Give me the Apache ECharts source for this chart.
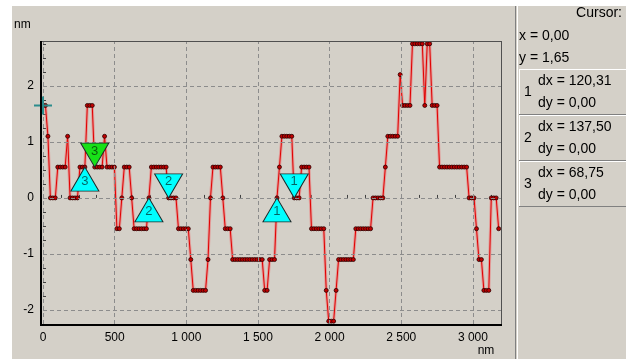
<!DOCTYPE html>
<html>
<head>
<meta charset="utf-8">
<script src="https://cdn.jsdelivr.net/npm/echarts@6/dist/echarts.min.js"></script>
<style>
html,body{margin:0;padding:0;background:#ffffff;}
#chart{width:626px;height:359px;}
</style>
</head>
<body>
<div id="chart"></div>
<script>
// ---- data (nm) ----
const xStep = 17.1875; // sample spacing along the profile
const profileY = [
  1.65,1.65,1.1,0,0,0,0.55,0.55,0.55,0.55,
  1.1,0,0,0,0,0.55,0.55,0.55,1.65,1.65,
  1.65,0.55,0.55,0.55,0.55,1.1,0.55,0.55,0.55,0.55,
  -0.55,-0.55,0,0.55,0.55,0.55,0,-0.55,-0.55,-0.55,
  -0.55,-0.55,-0.55,0,0.55,0.55,0.55,0.55,0.55,0.55,
  0.55,0,0,0,0,-0.55,-0.55,-0.55,-0.55,-0.55,
  -1.1,-1.65,-1.65,-1.65,-1.65,-1.65,-1.65,-1.1,0,0.55,
  0.55,0.55,0.55,0,-0.55,-0.55,-0.55,-1.1,-1.1,-1.1,
  -1.1,-1.1,-1.1,-1.1,-1.1,-1.1,-1.1,-1.1,-1.1,-1.1,
  -1.65,-1.65,-1.1,-1.1,-1.1,0,0.55,1.1,1.1,1.1,
  1.1,1.1,0,0,0,0.55,0.55,0.55,0.55,-0.55,
  -0.55,-0.55,-0.55,-0.55,-0.55,-1.65,-2.2,-2.2,-2.2,-1.65,
  -1.1,-1.1,-1.1,-1.1,-1.1,-1.1,-1.1,-0.55,-0.55,-0.55,
  -0.55,-0.55,-0.55,-0.55,0,0,0,0,0,0.55,
  1.1,1.1,1.1,1.1,1.1,2.2,1.65,1.65,1.65,1.65,
  2.75,2.75,2.75,2.75,2.75,1.65,2.75,2.75,1.65,1.65,
  1.65,0.55,0.55,0.55,0.55,0.55,0.55,0.55,0.55,0.55,
  0.55,0.55,0.55,0,0,0,-0.55,-1.1,-1.1,-1.65,
  -1.65,-1.65,0,0,0,-0.55
];
const xTickValues = [0, 500, 1000, 1500, 2000, 2500, 3000];
const xTickLabels = ['0', '500', '1 000', '1 500', '2 000', '2 500', '3 000'];
const yTickValues = [-2, -1, 0, 1, 2];
const yTickLabels = ['-2', '-1', '0', '1', '2'];

// markers: number, sample index of the "up" and "down" triangles
const markerNumbers = ['1', '2', '3'];
const markerUpIndex = [95, 43, 17];
const markerDownIndex = [102, 51, 21];
const markerDownActive = [false, false, true];

// cursor readout panel
const cursorX = 0.00;
const cursorY = 1.65;
const markerDx = [120.31, 137.50, 68.75];
const markerDy = [0.00, 0.00, 0.00];

// ---- build ----
const points = profileY.map((y, i) => [i * xStep, y]);
const fmt = v => v.toFixed(2).replace('.', ',');
const lookup = (vals, labs) => v => {
  for (let i = 0; i < vals.length; i++) if (Math.abs(v - vals[i]) < 1e-6) return labs[i];
  return '';
};

const FONT = 'Liberation Sans, Arial, sans-serif';
const PFONT = '14px ' + FONT;
const BG = '#d4d0c8';

const upData = markerNumbers.map((n, k) => ({
  value: [markerUpIndex[k] * xStep, profileY[markerUpIndex[k]]],
  label: { formatter: n }
}));
const downData = markerNumbers.map((n, k) => ({
  value: [markerDownIndex[k] * xStep, profileY[markerDownIndex[k]]],
  label: { formatter: n },
  itemStyle: { color: markerDownActive[k] ? '#18e018' : '#00ffff' }
}));

const gridLines = yTickValues.map(v => ({ yAxis: v })).concat(xTickValues.map(v => ({ xAxis: v })));

const graphics = [
  { type: 'rect', z: -10, silent: true, shape: { x: 12, y: 6, width: 504, height: 353 }, style: { fill: BG } },
  { type: 'rect', z: -10, silent: true, shape: { x: 516, y: 6, width: 110, height: 353 }, style: { fill: BG } },
  { type: 'line', z: -9, silent: true, shape: { x1: 515.5, y1: 6, x2: 515.5, y2: 359 }, style: { stroke: '#808080', lineWidth: 1 } },
  { type: 'line', z: -9, silent: true, shape: { x1: 517.5, y1: 6, x2: 517.5, y2: 359 }, style: { stroke: '#ffffff', lineWidth: 1 } },
  // plot frame
  { type: 'line', z: 50, silent: true, shape: { x1: 40, y1: 41.5, x2: 502, y2: 41.5 }, style: { stroke: '#505050', lineWidth: 1 } },
  { type: 'line', z: 50, silent: true, shape: { x1: 501.5, y1: 41, x2: 501.5, y2: 325 }, style: { stroke: '#505050', lineWidth: 1 } },
  { type: 'line', z: 50, silent: true, shape: { x1: 41, y1: 41, x2: 41, y2: 326 }, style: { stroke: '#000000', lineWidth: 2 } },
  { type: 'line', z: 50, silent: true, shape: { x1: 40, y1: 325, x2: 502, y2: 325 }, style: { stroke: '#000000', lineWidth: 2 } },
  { type: 'text', style: { text: 'nm', x: 14, y: 25, font: '12px ' + FONT, fill: '#000', align: 'left', verticalAlign: 'middle' } },
  { type: 'text', style: { text: 'nm', x: 486, y: 351, font: '12px ' + FONT, fill: '#000', align: 'center', verticalAlign: 'middle' } },
  { type: 'text', style: { text: 'Cursor:', x: 622, y: 13, font: PFONT, fill: '#000', align: 'right', verticalAlign: 'middle' } },
  { type: 'text', style: { text: 'x = ' + fmt(cursorX), x: 519, y: 36, font: PFONT, fill: '#000', align: 'left', verticalAlign: 'middle' } },
  { type: 'text', style: { text: 'y = ' + fmt(cursorY), x: 519, y: 58, font: PFONT, fill: '#000', align: 'left', verticalAlign: 'middle' } }
];
const boxTop = [69, 115, 161];
const boxH = 46;
markerNumbers.forEach((n, k) => {
  const t = boxTop[k];
  graphics.push(
    { type: 'line', z: -8, silent: true, shape: { x1: 519, y1: t + 0.5, x2: 626, y2: t + 0.5 }, style: { stroke: '#ffffff', lineWidth: 1 } },
    { type: 'line', z: -8, silent: true, shape: { x1: 519.5, y1: t, x2: 519.5, y2: t + boxH }, style: { stroke: '#ffffff', lineWidth: 1 } },
    { type: 'line', z: -8, silent: true, shape: { x1: 519, y1: t + boxH - 0.5, x2: 626, y2: t + boxH - 0.5 }, style: { stroke: '#808080', lineWidth: 1 } },
    { type: 'text', style: { text: n, x: 528, y: t + 23, font: PFONT, fill: '#000', align: 'center', verticalAlign: 'middle' } },
    { type: 'text', style: { text: 'dx = ' + fmt(markerDx[k]), x: 538, y: t + 12, font: PFONT, fill: '#000', align: 'left', verticalAlign: 'middle' } },
    { type: 'text', style: { text: 'dy = ' + fmt(markerDy[k]), x: 538, y: t + 34, font: PFONT, fill: '#000', align: 'left', verticalAlign: 'middle' } }
  );
});

const chart = echarts.init(document.getElementById('chart'), null, { renderer: 'canvas' });
chart.setOption({
  animation: false,
  backgroundColor: '#ffffff',
  textStyle: { fontFamily: FONT },
  graphic: graphics,
  grid: { left: 43, top: 41, width: 458, height: 283, show: false },
  xAxis: {
    type: 'value', min: 0, max: 3196, interval: 125,
    axisLine: { show: false },
    axisTick: { show: true, inside: true, length: 3, lineStyle: { color: '#404040' } },
    splitLine: { show: false },
    axisLabel: { color: '#000', fontSize: 12, fontFamily: FONT, margin: 8, showMaxLabel: false, formatter: lookup(xTickValues, xTickLabels) }
  },
  yAxis: {
    type: 'value', min: -2.25, max: 2.8, interval: 0.25, offset: 2,
    axisLine: { show: false },
    axisTick: { show: true, inside: true, length: 3, lineStyle: { color: '#404040' } },
    splitLine: { show: false },
    axisLabel: { color: '#000', fontSize: 12, fontFamily: FONT, margin: 7, showMaxLabel: false, formatter: lookup(yTickValues, yTickLabels) }
  },
  series: [
    {
      type: 'line', data: points, silent: true, z: 2, showSymbol: false,
      lineStyle: { color: 'rgba(236,120,120,0.6)', width: 3 },
      markLine: {
        silent: true, symbol: 'none', label: { show: false },
        lineStyle: { color: '#8c8c8c', width: 1, type: [4, 3] },
        data: gridLines
      }
    },
    {
      type: 'line', data: points, z: 3, symbol: 'circle', symbolSize: 4, showSymbol: true,
      lineStyle: { color: '#e00000', width: 1 },
      itemStyle: { color: '#c00000', borderColor: '#2a0000', borderWidth: 0.8 }
    },
    {
      type: 'scatter', data: upData, z: 5,
      symbol: 'path://M14,0L28,24L0,24Z', symbolSize: [28, 24], symbolOffset: [0, 12],
      itemStyle: { color: '#00ffff', borderColor: '#1a2a2a', borderWidth: 1, opacity: 1 },
      label: { show: true, position: 'inside', offset: [0, 2], color: 'rgba(0,0,0,0.6)', fontSize: 13, fontFamily: FONT }
    },
    {
      type: 'scatter', data: downData, z: 5,
      symbol: 'path://M0,0L28,0L14,24Z', symbolSize: [28, 24], symbolOffset: [0, -12],
      itemStyle: { borderColor: '#1a2a2a', borderWidth: 1, opacity: 1 },
      label: { show: true, position: 'inside', offset: [0, -4], color: 'rgba(0,0,0,0.6)', fontSize: 13, fontFamily: FONT }
    },
    {
      type: 'scatter', z: 6, data: [[cursorX, cursorY]],
      symbol: 'path://M8,0H10V8H18V10H10V18H8V10H0V8H8Z', symbolSize: [18, 18],
      itemStyle: { color: '#2b8c8c', opacity: 1 }
    }
  ]
});
</script>
</body>
</html>
